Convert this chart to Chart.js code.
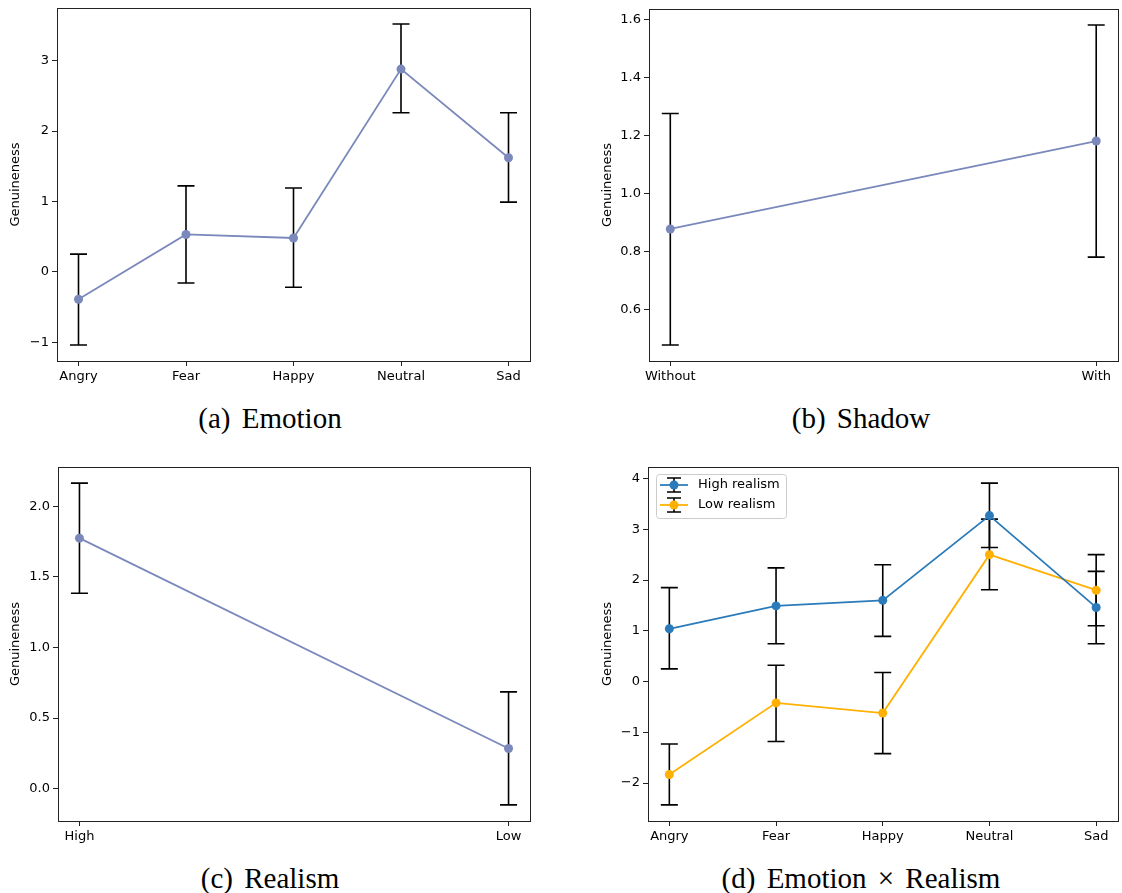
<!DOCTYPE html>
<html>
<head>
<meta charset="utf-8">
<script src="https://cdn.jsdelivr.net/npm/chart.js@4/dist/chart.umd.min.js"></script>
<style>
  body { margin: 0; background: #fff; }
  #wrap { position: relative; width: 1122px; height: 893px; overflow: hidden; }
  canvas { position: absolute; }
  .cap { position: absolute; width: 540px; text-align: center; font-family: "Liberation Serif", "DejaVu Serif", serif; font-size: 29px; line-height: 32px; word-spacing: 4px; color: #000; }
</style>
</head>
<body>
<div id="wrap">
  <canvas id="cA" width="540" height="395" style="left:0;top:0"></canvas>
  <canvas id="cB" width="532" height="395" style="left:590px;top:0"></canvas>
  <canvas id="cC" width="540" height="405" style="left:0;top:450px"></canvas>
  <canvas id="cD" width="532" height="405" style="left:590px;top:450px"></canvas>
  <div class="cap" style="left:0;top:402px">(a) Emotion</div>
  <div class="cap" style="left:591px;top:402px">(b) Shadow</div>
  <div class="cap" style="left:0;top:862px">(c) Realism</div>
  <div class="cap" style="left:591px;top:862px">(d) Emotion × Realism</div>
</div>
<script>
// ---- data ----
const emotions = ["Angry", "Fear", "Happy", "Neutral", "Sad"];
const emotionMean = [-0.39, 0.53, 0.48, 2.88, 1.62];
const emotionLow = [-1.04, -0.16, -0.22, 2.26, 0.99];
const emotionHigh = [0.25, 1.22, 1.19, 3.52, 2.26];
const emotionTicks = [-1, 0, 1, 2, 3];

const shadowLevels = ["Without", "With"];
const shadowMean = [0.879, 1.182];
const shadowLow = [0.479, 0.782];
const shadowHigh = [1.277, 1.582];
const shadowTicks = [0.6, 0.8, 1.0, 1.2, 1.4, 1.6];

const realismLevels = ["High", "Low"];
const realismMean = [1.775, 0.285];
const realismLow = [1.385, -0.115];
const realismHigh = [2.165, 0.686];
const realismTicks = [0.0, 0.5, 1.0, 1.5, 2.0];

const seriesNames = ["High realism", "Low realism"];
const highMean = [1.04, 1.49, 1.60, 3.27, 1.46];
const highLow = [0.25, 0.745, 0.89, 2.64, 0.745];
const highHigh = [1.85, 2.24, 2.30, 3.91, 2.17];
const lowMean = [-1.83, -0.42, -0.62, 2.50, 1.80];
const lowLow = [-2.43, -1.18, -1.42, 1.81, 1.10];
const lowHigh = [-1.23, 0.32, 0.18, 3.20, 2.50];
const interTicks = [-2, -1, 0, 1, 2, 3, 4];

const mainColor = "#7a88bb";
const blue = "#2b7bba";
const orange = "#ffb000";
const font = { family: "'DejaVu Sans', sans-serif", size: 13 };

//*** plugins
const errorBars = {
  id: "errorBars",
  beforeDatasetsDraw(chart) {
    const ctx = chart.ctx, xs = chart.scales.x, ys = chart.scales.y;
    ctx.save();
    ctx.strokeStyle = "#000";
    ctx.lineWidth = 1.6;
    chart.data.datasets.forEach((ds) => {
      ds.data.forEach((p, i) => {
        const px = xs.getPixelForValue(p.x);
        const lo = ys.getPixelForValue(ds.errLo[i]);
        const hi = ys.getPixelForValue(ds.errHi[i]);
        ctx.beginPath();
        ctx.moveTo(px, lo); ctx.lineTo(px, hi);
        ctx.moveTo(px - 8.5, lo); ctx.lineTo(px + 8.5, lo);
        ctx.moveTo(px - 8.5, hi); ctx.lineTo(px + 8.5, hi);
        ctx.stroke();
      });
    });
    ctx.restore();
  },
};

const frame = {
  id: "frame",
  afterDraw(chart) {
    const a = chart.chartArea, ctx = chart.ctx;
    ctx.save();
    ctx.strokeStyle = "#222";
    ctx.lineWidth = 1;
    ctx.strokeRect(Math.round(a.left) + 0.5, Math.round(a.top) + 0.5,
      Math.round(a.right - a.left), Math.round(a.bottom - a.top));
    ctx.restore();
  },
};

const boxLegend = {
  id: "boxLegend",
  afterDraw(chart) {
    const a = chart.chartArea, ctx = chart.ctx;
    const x0 = a.left + 8, y0 = a.top + 7, w = 130, h = 44;
    ctx.save();
    ctx.fillStyle = "rgba(255,255,255,0.8)";
    ctx.strokeStyle = "#cccccc";
    ctx.lineWidth = 1;
    ctx.beginPath();
    ctx.roundRect(x0 + 0.5, y0 + 0.5, w, h, 3);
    ctx.fill();
    ctx.stroke();
    chart.data.datasets.forEach((ds, i) => {
      const cy = y0 + 11 + i * 20, hx = x0 + 18;
      ctx.strokeStyle = "#000";
      ctx.lineWidth = 1.6;
      ctx.beginPath();
      ctx.moveTo(hx, cy - 7); ctx.lineTo(hx, cy + 7);
      ctx.moveTo(hx - 7, cy - 7); ctx.lineTo(hx + 7, cy - 7);
      ctx.moveTo(hx - 7, cy + 7); ctx.lineTo(hx + 7, cy + 7);
      ctx.stroke();
      ctx.strokeStyle = ds.borderColor;
      ctx.lineWidth = 1.75;
      ctx.beginPath();
      ctx.moveTo(hx - 14, cy); ctx.lineTo(hx + 14, cy);
      ctx.stroke();
      ctx.fillStyle = ds.borderColor;
      ctx.beginPath();
      ctx.arc(hx, cy, 4.5, 0, Math.PI * 2);
      ctx.fill();
      ctx.fillStyle = "#000";
      ctx.font = "13px 'DejaVu Sans', sans-serif";
      ctx.textBaseline = "middle";
      ctx.fillText(ds.label, hx + 24, cy);
    });
    ctx.restore();
  },
};

const minus = (s) => String(s).replace("-", "\u2212");

const makeDs = (label, cats, mean, lo, hi, color) => ({
  label: label,
  data: cats.map((c, i) => ({ x: i, y: mean[i] })),
  errLo: lo,
  errHi: hi,
  borderColor: color,
  backgroundColor: color,
  borderWidth: 1.75,
  pointRadius: 4.5,
  pointBorderWidth: 0,
  pointHoverRadius: 4.5,
  tension: 0,
});

const makeChart = (id, cats, datasets, yTicks, yMin, yMax, decimals, box, extra) => {
  const pad = (cats.length - 1) * 0.05;
  return new Chart(document.getElementById(id), {
    type: "line",
    data: { datasets: datasets },
    options: {
      responsive: false,
      animation: false,
      devicePixelRatio: 1,
      layout: { padding: { top: box.top, right: box.right, left: 0, bottom: 0 } },
      plugins: { legend: { display: false }, tooltip: { enabled: false } },
      scales: {
        x: {
          type: "linear",
          min: -pad,
          max: cats.length - 1 + pad,
          afterBuildTicks: (s) => { s.ticks = cats.map((c, i) => ({ value: i })); },
          afterFit: (s) => { s.height = box.xh; s.paddingLeft = 0; s.paddingRight = 0; },
          ticks: { callback: (v) => cats[v], font: font, color: "#000", padding: 3, maxRotation: 0, autoSkip: false },
          grid: { drawOnChartArea: false, tickLength: 5, color: "#222" },
          border: { display: false },
        },
        y: {
          type: "linear",
          min: yMin,
          max: yMax,
          afterBuildTicks: (s) => { s.ticks = yTicks.map((v) => ({ value: v })); },
          afterFit: (s) => { s.width = box.yw; s.paddingTop = 0; s.paddingBottom = 0; },
          ticks: { callback: (v) => minus(v.toFixed(decimals)), font: font, color: "#000", padding: 3 },
          grid: { drawOnChartArea: false, tickLength: 5, color: "#222" },
          border: { display: false },
          title: { display: true, text: "Genuineness", font: font, color: "#000", padding: { top: box.tp, bottom: 0 } },
        },
      },
    },
    plugins: [errorBars, frame].concat(extra || []),
  });
};

makeChart("cA", emotions,
  [makeDs("Emotion", emotions, emotionMean, emotionLow, emotionHigh, mainColor)],
  emotionTicks, -1.268, 3.748, 0, { top: 8, right: 10, xh: 34, yw: 57, tp: 8 });

makeChart("cB", shadowLevels,
  [makeDs("Shadow", shadowLevels, shadowMean, shadowLow, shadowHigh, mainColor)],
  shadowTicks, 0.424, 1.637, 1, { top: 9, right: 1, xh: 34, yw: 59, tp: 10 });

makeChart("cC", realismLevels,
  [makeDs("Realism", realismLevels, realismMean, realismLow, realismHigh, mainColor)],
  realismTicks, -0.229, 2.279, 1, { top: 17, right: 10, xh: 34, yw: 58, tp: 8 });

makeChart("cD", emotions,
  [makeDs(seriesNames[0], emotions, highMean, highLow, highHigh, blue),
   makeDs(seriesNames[1], emotions, lowMean, lowLow, lowHigh, orange)],
  interTicks, -2.747, 4.227, 0, { top: 17, right: 1, xh: 34, yw: 58, tp: 10 }, [boxLegend]);
</script>
</body>
</html>
